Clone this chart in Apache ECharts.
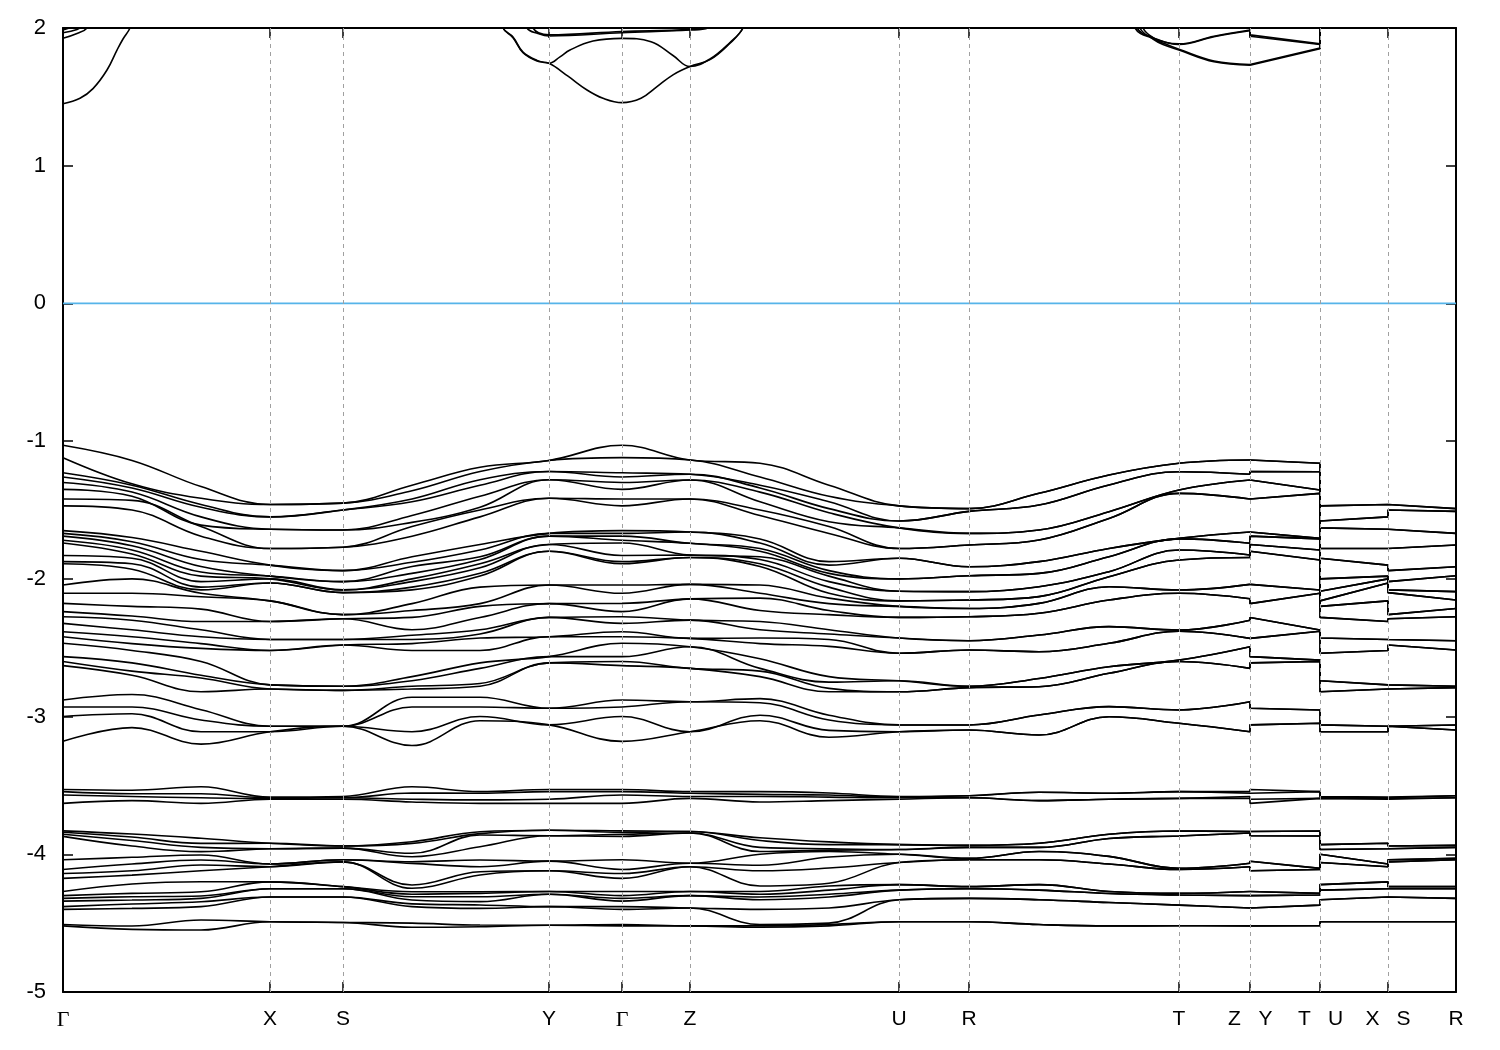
<!DOCTYPE html>
<html><head><meta charset="utf-8">
<script src="https://cdn.jsdelivr.net/npm/echarts@6.0.0/dist/echarts.min.js"></script>
<style>html,body{margin:0;padding:0;background:#fff}#c{width:1500px;height:1050px}</style>
</head><body><div id="c"></div>
<script>
// High-symmetry points (path coordinate) and labels
const K_TICKS = [0, 207, 280, 486, 559, 627, 836, 906, 1116, 1187, 1257, 1325, 1393];
const TICK_LABELS = ['Γ', 'X', 'S', 'Y', 'Γ', 'Z', 'U', 'R', 'T', 'Z|Y', 'T|U', 'X|S', 'R'];

// Sample positions along the continuous part and the broken part of the path
const K_LEFT = [0, 69, 138, 207, 280, 349, 417, 486, 559, 627, 697, 766, 836, 906, 976, 1046, 1116, 1187];
const LEFT_POINTS = ['G', 'GX1', 'GX2', 'X', 'S', 'SY1', 'SY2', 'Y', 'G', 'Z', 'ZU1', 'ZU2', 'U', 'R', 'RT1', 'RT2', 'T', 'Z'];
const K_RIGHT = [1187, 1187, 1257, 1257, 1325, 1325, 1393];
const RIGHT_POINTS = ['Z', 'Y', 'T', 'U', 'X', 'S', 'R'];

// Valence band energies (eV) at each sampled k-point, highest first
const E_G = [-1.03,-1.12,-1.23,-1.26,-1.30,-1.35,-1.42,-1.47,-1.65,-1.67,-1.69,-1.72,-1.74,-1.83,-1.875,-1.89,-2.045,-2.105,-2.178,-2.238,-2.275,-2.323,-2.384,-2.42,-2.468,-2.565,-2.60,-2.63,-2.88,-2.93,-3.00,-3.18,
  -3.53,-3.545,-3.57,-3.63,
  -3.83,-3.84,-3.855,-3.87,-4.04,-4.11,-4.14,-4.175,-4.27,-4.30,-4.32,-4.34,-4.38,-4.40,-4.51,-4.52];
const E_GX1 = [-1.14,-1.31,-1.32,-1.34,-1.37,-1.40,-1.43,-1.50,-1.70,-1.73,-1.76,-1.79,-1.82,-1.85,-1.89,-1.93,-2.00,-2.105,-2.20,-2.27,-2.30,-2.37,-2.42,-2.47,-2.52,-2.61,-2.67,-2.70,-2.84,-2.93,-2.98,-3.08,
  -3.535,-3.56,-3.58,-3.61,
  -3.853,-3.875,-3.90,-3.94,-4.022,-4.071,-4.12,-4.151,-4.216,-4.284,-4.308,-4.332,-4.361,-4.393,-4.521,-4.545];
const E_GX2 = [-1.33,-1.415,-1.46,-1.48,-1.55,-1.61,-1.62,-1.69,-1.80,-1.86,-1.91,-1.95,-1.98,-2.02,-2.06,-2.08,-2.105,-2.13,-2.22,-2.31,-2.37,-2.42,-2.47,-2.505,-2.60,-2.70,-2.72,-2.82,-2.95,-3.025,-3.11,-3.20,
  -3.51,-3.56,-3.59,-3.63,
  -3.884,-3.921,-3.95,-3.981,-4.005,-4.042,-4.078,-4.12,-4.199,-4.272,-4.303,-4.32,-4.345,-4.38,-4.477,-4.55];
const E_X = [-1.46,-1.46,-1.55,-1.55,-1.64,-1.64,-1.78,-1.78,-1.90,-1.90,-1.98,-1.98,-2.00,-2.00,-2.03,-2.03,-2.16,-2.16,-2.31,-2.31,-2.44,-2.44,-2.52,-2.52,-2.77,-2.77,-2.80,-2.80,-3.07,-3.07,-3.11,-3.11,
  -3.585,-3.59,-3.595,-3.60,
  -3.92,-3.92,-3.96,-3.96,-4.07,-4.07,-4.09,-4.09,-4.20,-4.20,-4.25,-4.25,-4.31,-4.31,-4.49,-4.49];
const E_S = [-1.45,-1.45,-1.50,-1.50,-1.645,-1.645,-1.77,-1.77,-1.94,-1.94,-2.02,-2.02,-2.08,-2.08,-2.10,-2.10,-2.26,-2.26,-2.29,-2.29,-2.44,-2.44,-2.48,-2.48,-2.78,-2.78,-2.81,-2.81,-3.07,-3.07,-3.07,-3.07,
  -3.58,-3.59,-3.59,-3.60,
  -3.94,-3.94,-3.955,-3.955,-4.04,-4.04,-4.055,-4.055,-4.235,-4.235,-4.25,-4.25,-4.31,-4.31,-4.495,-4.495];
const E_SY1 = [-1.32,-1.36,-1.42,-1.44,-1.54,-1.59,-1.62,-1.69,-1.84,-1.88,-1.91,-1.96,-2.00,-2.02,-2.06,-2.08,-2.18,-2.23,-2.28,-2.37,-2.41,-2.44,-2.47,-2.52,-2.71,-2.74,-2.78,-2.80,-2.86,-2.93,-3.11,-3.21,
  -3.51,-3.555,-3.60,-3.62,
  -3.909,-3.921,-3.993,-4.018,-4.054,-4.066,-4.223,-4.247,-4.272,-4.29,-4.308,-4.332,-4.36,-4.38,-4.50,-4.53];
const E_SY2 = [-1.19,-1.22,-1.28,-1.32,-1.40,-1.48,-1.50,-1.55,-1.75,-1.79,-1.84,-1.86,-1.89,-1.92,-1.96,-1.98,-2.06,-2.18,-2.20,-2.28,-2.37,-2.40,-2.43,-2.52,-2.61,-2.65,-2.76,-2.78,-2.86,-2.93,-3.00,-3.03,
  -3.545,-3.557,-3.605,-3.63,
  -3.836,-3.85,-3.86,-3.945,-4.042,-4.09,-4.127,-4.15,-4.272,-4.284,-4.308,-4.344,-4.368,-4.393,-4.514,-4.526];
const E_Y = [-1.14,-1.14,-1.22,-1.22,-1.28,-1.28,-1.415,-1.415,-1.67,-1.67,-1.69,-1.69,-1.75,-1.75,-1.80,-1.80,-2.045,-2.045,-2.18,-2.18,-2.28,-2.28,-2.42,-2.42,-2.565,-2.565,-2.61,-2.61,-2.94,-2.94,-3.06,-3.06,
  -3.53,-3.545,-3.60,-3.63,
  -3.825,-3.825,-3.865,-3.865,-4.05,-4.05,-4.12,-4.12,-4.27,-4.27,-4.29,-4.29,-4.38,-4.38,-4.515,-4.515];
const E_Z = [-1.137,-1.137,-1.24,-1.24,-1.282,-1.282,-1.42,-1.42,-1.66,-1.66,-1.742,-1.742,-1.827,-1.827,-1.845,-1.845,-2.04,-2.04,-2.145,-2.145,-2.30,-2.30,-2.432,-2.432,-2.493,-2.493,-2.65,-2.65,-2.892,-2.892,-3.11,-3.11,
  -3.545,-3.557,-3.58,-3.594,
  -3.835,-3.835,-3.845,-3.845,-4.065,-4.065,-4.09,-4.09,-4.27,-4.27,-4.30,-4.30,-4.39,-4.39,-4.52,-4.52];
const E_ZU1 = [-1.16,-1.26,-1.32,-1.34,-1.37,-1.44,-1.50,-1.54,-1.71,-1.74,-1.78,-1.80,-1.84,-1.86,-1.89,-1.91,-2.045,-2.105,-2.14,-2.23,-2.31,-2.37,-2.43,-2.47,-2.58,-2.65,-2.67,-2.71,-2.87,-2.90,-2.99,-3.03,
  -3.545,-3.565,-3.58,-3.62,
  -3.88,-3.90,-3.95,-3.98,-4.00,-4.08,-4.12,-4.23,-4.27,-4.29,-4.31,-4.33,-4.40,-4.51,-4.52,-4.53];
const E_ZU2 = [-1.32,-1.40,-1.44,-1.49,-1.52,-1.585,-1.62,-1.67,-1.875,-1.90,-1.94,-1.96,-1.98,-2.02,-2.06,-2.105,-2.14,-2.18,-2.23,-2.26,-2.37,-2.40,-2.44,-2.49,-2.71,-2.75,-2.795,-2.82,-2.99,-3.025,-3.10,-3.15,
  -3.555,-3.57,-3.585,-3.61,
  -3.91,-3.93,-3.96,-3.97,-3.98,-4.02,-4.10,-4.21,-4.23,-4.26,-4.29,-4.31,-4.39,-4.50,-4.51,-4.52];
const E_U = [-1.47,-1.47,-1.58,-1.58,-1.63,-1.63,-1.78,-1.78,-1.85,-1.85,-2.00,-2.00,-2.09,-2.09,-2.16,-2.16,-2.20,-2.20,-2.28,-2.28,-2.43,-2.43,-2.54,-2.54,-2.74,-2.74,-2.82,-2.82,-3.06,-3.06,-3.11,-3.11,
  -3.58,-3.585,-3.59,-3.60,
  -3.93,-3.93,-3.965,-3.965,-4.00,-4.00,-4.06,-4.06,-4.22,-4.22,-4.26,-4.26,-4.33,-4.33,-4.49,-4.49];
const E_R = [-1.49,-1.49,-1.51,-1.51,-1.67,-1.67,-1.754,-1.754,-1.912,-1.912,-1.977,-1.977,-2.093,-2.093,-2.154,-2.154,-2.215,-2.215,-2.275,-2.275,-2.449,-2.449,-2.517,-2.517,-2.78,-2.78,-2.79,-2.79,-3.061,-3.061,-3.098,-3.098,
  -3.575,-3.575,-3.59,-3.59,
  -3.935,-3.935,-3.95,-3.95,-4.03,-4.03,-4.04,-4.04,-4.235,-4.235,-4.25,-4.25,-4.32,-4.32,-4.49,-4.49];
const E_RT1 = [-1.379,-1.379,-1.464,-1.464,-1.645,-1.645,-1.718,-1.718,-1.875,-1.875,-1.96,-1.96,-2.057,-2.057,-2.129,-2.129,-2.178,-2.178,-2.25,-2.25,-2.408,-2.408,-2.529,-2.529,-2.723,-2.723,-2.783,-2.783,-2.989,-2.989,-3.134,-3.134,
  -3.55,-3.55,-3.61,-3.61,
  -3.92,-3.92,-3.95,-3.95,-3.98,-3.98,-4.04,-4.04,-4.22,-4.22,-4.26,-4.26,-4.33,-4.33,-4.51,-4.51];
const E_RT2 = [-1.246,-1.246,-1.318,-1.318,-1.512,-1.512,-1.561,-1.561,-1.779,-1.779,-1.839,-1.839,-1.948,-1.948,-1.984,-1.984,-2.057,-2.057,-2.154,-2.154,-2.347,-2.347,-2.468,-2.468,-2.638,-2.638,-2.686,-2.686,-2.928,-2.928,-3.001,-3.001,
  -3.557,-3.557,-3.60,-3.60,
  -3.855,-3.855,-3.885,-3.885,-4.015,-4.015,-4.07,-4.07,-4.27,-4.27,-4.285,-4.285,-4.35,-4.35,-4.52,-4.52];
const E_T = [-1.161,-1.161,-1.222,-1.222,-1.355,-1.355,-1.379,-1.379,-1.706,-1.706,-1.71,-1.71,-1.791,-1.791,-1.863,-1.863,-2.081,-2.081,-2.105,-2.105,-2.372,-2.372,-2.38,-2.38,-2.59,-2.59,-2.60,-2.60,-2.952,-2.952,-3.049,-3.049,
  -3.545,-3.545,-3.594,-3.594,
  -3.831,-3.831,-3.867,-3.867,-4.102,-4.102,-4.11,-4.11,-4.284,-4.284,-4.296,-4.296,-4.369,-4.369,-4.519,-4.519];

// Conduction bands: smooth pieces [k, E] and broken-path pieces
const CB1 = [
  [[0,1.45],[17,1.49],[30,1.56],[44,1.695],[54,1.84],[60,1.92],[67,2.0],[80,2.25]],
  [[420,2.4],[440,2.0],[450,1.93],[460,1.82],[474,1.76],[486,1.744],[505,1.65],[524,1.55],[540,1.49],[559,1.458],[578,1.49],[594,1.574],[610,1.66],[627,1.72],[647,1.77],[667,1.89],[680,2.0],[700,2.35]],
  [[1060,2.4],[1077,2.0],[1090,1.92],[1100,1.88],[1116,1.84],[1151,1.755],[1187,1.73]]
];
const CB2 = [
  [[0,1.925],[14,1.96],[24,2.0],[40,2.2]],
  [[420,2.4],[440,2.0],[450,1.935],[460,1.825],[474,1.765],[486,1.744],[497,1.79],[507,1.84],[530,1.905],[559,1.925],[588,1.90],[610,1.80],[627,1.72],[647,1.775],[667,1.895],[680,2.0],[700,2.35]],
  [[1060,2.4],[1080,2.0],[1092,1.92],[1102,1.885],[1116,1.845],[1151,1.76],[1187,1.735]]
];
const CB3 = [
  [[0,1.966],[14,1.99],[20,2.02],[30,2.15]],
  [[440,2.4],[464,2.0],[475,1.96],[486,1.942],[559,1.966],[627,1.985],[645,2.0],[660,2.15]],
  [[1050,2.4],[1074,2.0],[1090,1.93],[1116,1.88],[1151,1.937],[1187,1.98]]
];
const CB4 = [
  [[0,1.985],[10,2.02],[20,2.15]],
  [[450,2.4],[470,2.0],[486,1.95],[559,1.975],[627,1.99],[640,2.02],[655,2.15]],
  [[1050,2.4],[1072,2.0],[1088,1.93],[1116,1.885],[1151,1.94],[1187,1.985]]
];
const CB_RIGHT = [
  [[1187,1.73],[1187,1.73],[1257,1.85],[1257,2.4]],
  [[1187,1.735],[1187,1.735],[1257,1.855],[1257,2.4]],
  [[1187,1.98],[1187,1.94],[1257,1.88],[1257,2.4]],
  [[1187,1.985],[1187,1.95],[1257,1.885],[1257,2.4]]
];
const FERMI = 0;

const E = {G:E_G, GX1:E_GX1, GX2:E_GX2, X:E_X, S:E_S, SY1:E_SY1, SY2:E_SY2, Y:E_Y, Z:E_Z,
  ZU1:E_ZU1, ZU2:E_ZU2, U:E_U, R:E_R, RT1:E_RT1, RT2:E_RT2, T:E_T};
Object.keys(E).forEach(k => { E[k] = E[k].slice().sort((a, b) => b - a); });
const NB = Math.min(...Object.values(E).map(a => a.length));

const bandStyle = {color: '#000', width: 1.6};
const series = [];

// Fermi level line + dashed high-symmetry verticals
series.push({
  type: 'line', data: [[0, FERMI], [1393, FERMI]], symbol: 'none', silent: true, z: 1,
  lineStyle: {color: '#56b4e9', width: 1.8},
  markLine: {
    silent: true, symbol: ['none', 'none'], label: {show: false},
    lineStyle: {color: '#a0a0a0', type: [4, 4], width: 1},
    data: K_TICKS.slice(1, -1).map(k => ({xAxis: k}))
  }
});

for (let b = 0; b < NB; b++) {
  series.push({
    type: 'line', symbol: 'none', silent: true, smooth: 0.4, z: 3,
    lineStyle: bandStyle,
    data: K_LEFT.map((k, i) => [k, E[LEFT_POINTS[i]][b]])
  });
  series.push({
    type: 'line', symbol: 'none', silent: true, smooth: false, z: 3,
    lineStyle: bandStyle,
    data: K_RIGHT.map((k, i) => [k, E[RIGHT_POINTS[i]][b]])
  });
}
[CB1, CB2, CB3, CB4].forEach(cb => cb.forEach(seg => {
  series.push({type: 'line', symbol: 'none', silent: true, smooth: 0.4, z: 3, clip: true,
    lineStyle: bandStyle, data: seg});
}));
CB_RIGHT.forEach(seg => {
  series.push({type: 'line', symbol: 'none', silent: true, smooth: false, z: 3, clip: true,
    lineStyle: bandStyle, data: seg});
});

const FONT = "'Liberation Sans', Arial, Helvetica, sans-serif";
function tickLabel(v) {
  const i = K_TICKS.indexOf(Math.round(v));
  if (i < 0) return '';
  const s = TICK_LABELS[i];
  if (s.indexOf('|') >= 0) {
    const p = s.split('|');
    return '{p|' + p[0] + '}{p|' + p[1] + '}';
  }
  if (s === 'Γ') return '{g|Γ}';
  return s;
}
const axisLineStyle = {show: true, onZero: false, lineStyle: {color: '#000', width: 2}};
const tickStyle = {show: true, inside: true, length: 10, lineStyle: {color: '#000', width: 1.5}};

const option = {
  animation: false,
  backgroundColor: '#fff',
  grid: {left: 63, right: 44, top: 28, bottom: 58, show: false},
  xAxis: [
    {type: 'value', min: 0, max: 1393, position: 'bottom',
      axisLine: axisLineStyle,
      axisTick: Object.assign({customValues: K_TICKS}, tickStyle),
      axisLabel: {customValues: K_TICKS, formatter: tickLabel, margin: 17, color: '#000',
        fontSize: 21, fontFamily: FONT,
        rich: {p: {width: 31, align: 'center', fontSize: 21, fontFamily: FONT, color: '#000'},
               g: {fontSize: 22, fontFamily: "'Liberation Serif', 'DejaVu Serif', serif", color: '#000'}}},
      splitLine: {show: false}},
    {type: 'value', min: 0, max: 1393, position: 'top',
      axisLine: axisLineStyle,
      axisTick: Object.assign({customValues: K_TICKS}, tickStyle),
      axisLabel: {show: false}, splitLine: {show: false}}
  ],
  yAxis: [
    {type: 'value', min: -5, max: 2, interval: 1, position: 'left',
      axisLine: axisLineStyle, axisTick: tickStyle,
      axisLabel: {margin: 17, color: '#000', fontSize: 22, fontFamily: FONT},
      splitLine: {show: false}},
    {type: 'value', min: -5, max: 2, interval: 1, position: 'right',
      axisLine: axisLineStyle, axisTick: tickStyle,
      axisLabel: {show: false}, splitLine: {show: false}}
  ],
  series: series
};
const chart = echarts.init(document.getElementById('c'), null, {renderer: 'canvas'});
chart.setOption(option);
</script></body></html>
